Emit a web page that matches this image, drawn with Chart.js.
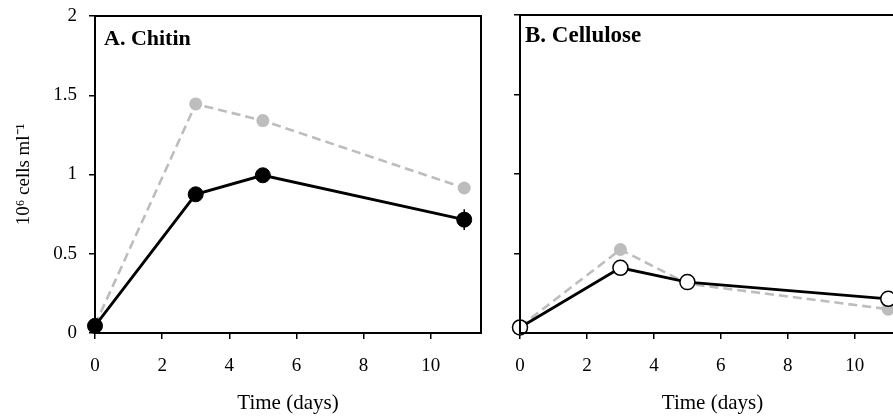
<!DOCTYPE html>
<html><head><meta charset="utf-8">
<script src="https://cdn.jsdelivr.net/npm/chart.js@4"></script>
<style>
html,body{margin:0;padding:0;background:#fff;overflow:hidden;width:893px;height:418px;position:relative}
#a{position:absolute;left:0;top:0;width:490px;height:418px}
#b{position:absolute;left:490px;top:0;width:430px;height:418px}
</style></head><body>
<div id="a"><canvas id="ca"></canvas></div>
<div id="b"><canvas id="cb"></canvas></div>
<script>
// ---- data ----
const days = [0, 3, 5, 11];
const chitinBlack = [0.045, 0.875, 0.995, 0.715];
const chitinBlackErr = [0, 0, 0, 0.065];
const chitinGray = [0.05, 1.445, 1.34, 0.915];
const celluloseWhite = [0.035, 0.41, 0.32, 0.215];
const celluloseGray = [0.04, 0.525, 0.31, 0.15];
const yTickValues = [0, 0.5, 1, 1.5, 2];
const yTickLabels = ['0', '0.5', '1', '1.5', '2'];
const xTickValues = [0, 2, 4, 6, 8, 10];
const xTickLabels = ['0', '2', '4', '6', '8', '10'];
const panelTitles = ['A. Chitin', 'B. Cellulose'];
const xTitle = 'Time (days)';
const yTitle = '10\u2076 cells ml\u207B\u00B9';

const FONT = "'Liberation Serif', 'Times New Roman', serif";

const pts = vals => days.map((d, i) => ({x: d, y: vals[i]}));

function errorSets(vals, errs) {
  const out = [];
  errs.forEach((e, i) => {
    if (e > 0) out.push({
      data: [{x: days[i], y: vals[i] - e}, {x: days[i], y: vals[i] + e}],
      borderColor: '#000', borderWidth: 1.5, pointRadius: 0, clip: false
    });
  });
  return out;
}

const framePlugin = {
  id: 'frame',
  afterDraw(chart) {
    const {ctx, chartArea: a} = chart;
    ctx.save();
    ctx.strokeStyle = '#000';
    ctx.lineWidth = 2;
    ctx.strokeRect(a.left, a.top, a.right - a.left, a.bottom - a.top);
    const o = chart.options.plugins.panelLabel;
    ctx.fillStyle = '#000';
    ctx.font = 'bold ' + o.size + 'px ' + FONT;
    ctx.textBaseline = 'alphabetic';
    ctx.textAlign = 'left';
    ctx.fillText(o.text, a.left + o.dx, o.baseline);
    ctx.restore();
  }
};

function makePanel(id, o) {
  return new Chart(document.getElementById(id), {
    type: 'line',
    data: {datasets: o.datasets},
    plugins: [framePlugin],
    options: {
      responsive: true, maintainAspectRatio: false, animation: false,
      layout: {padding: {left: 0, right: o.padRight, top: o.padTop, bottom: 0}},
      plugins: {legend: {display: false}, tooltip: {enabled: false},
        panelLabel: {text: o.label, dx: o.labelDx, baseline: o.labelBaseline, size: o.labelSize}},
      elements: {line: {tension: 0}},
      scales: {
        x: {
          type: 'linear', min: 0, max: 11.5,
          afterFit: s => { s.height = 85; s.paddingLeft = 0; s.paddingRight = 0; },
          afterBuildTicks: s => { s.ticks = xTickValues.map(v => ({value: v})); },
          ticks: {includeBounds: false, color: '#000', padding: 16,
            font: {family: FONT, size: 19},
            callback: v => xTickLabels[xTickValues.indexOf(v)] ?? ''},
          grid: {drawOnChartArea: false, drawTicks: true, tickLength: 6, color: '#000', lineWidth: 1.5},
          border: {display: true, color: '#000', width: 2},
          title: {display: true, text: xTitle, color: '#000', font: {family: FONT, size: 21},
            padding: {top: 0, bottom: 2}}
        },
        y: {
          type: 'linear', min: 0, max: 2,
          afterFit: s => { s.width = o.yWidth; s.paddingTop = 0; s.paddingBottom = 0; },
          afterBuildTicks: s => { s.ticks = yTickValues.map(v => ({value: v})); },
          ticks: {display: o.showYLabels, color: '#000', padding: 12,
            font: {family: FONT, size: 19},
            callback: v => yTickLabels[yTickValues.indexOf(v)] ?? ''},
          grid: {drawOnChartArea: false, drawTicks: true, tickLength: 6, color: '#000', lineWidth: 1.5},
          border: {display: true, color: '#000', width: 2},
          title: {display: o.showYLabels, text: yTitle, color: '#000', font: {family: FONT, size: 19},
            padding: {top: 13, bottom: 0}}
        }
      }
    }
  });
}

makePanel('ca', {
  label: panelTitles[0], labelDx: 9, labelBaseline: 45, labelSize: 22,
  padRight: 9, padTop: 16, yWidth: 95, showYLabels: true,
  datasets: [
    {data: pts(chitinBlack), borderColor: '#000', borderWidth: 2.8, pointRadius: 7.5,
     pointBackgroundColor: '#000', pointBorderColor: '#000', pointBorderWidth: 1, clip: false},
    ...errorSets(chitinBlack, chitinBlackErr),
    {data: pts(chitinGray), borderColor: '#bdbdbd', borderWidth: 2.6, borderDash: [9, 5], pointRadius: 6.5,
     pointBackgroundColor: '#bdbdbd', pointBorderColor: '#bdbdbd', pointBorderWidth: 0, clip: false}
  ]
});

makePanel('cb', {
  label: panelTitles[1], labelDx: 5, labelBaseline: 42, labelSize: 23,
  padRight: 15, padTop: 15, yWidth: 30, showYLabels: false,
  datasets: [
    {data: pts(celluloseWhite), borderColor: '#000', borderWidth: 2.8, pointRadius: 7.5,
     pointBackgroundColor: '#fff', pointBorderColor: '#000', pointBorderWidth: 1.5, clip: false},
    {data: pts(celluloseGray), borderColor: '#bdbdbd', borderWidth: 2.6, borderDash: [9, 5], pointRadius: 6.5,
     pointBackgroundColor: '#bdbdbd', pointBorderColor: '#bdbdbd', pointBorderWidth: 0, clip: false}
  ]
});
</script>
</body></html>
